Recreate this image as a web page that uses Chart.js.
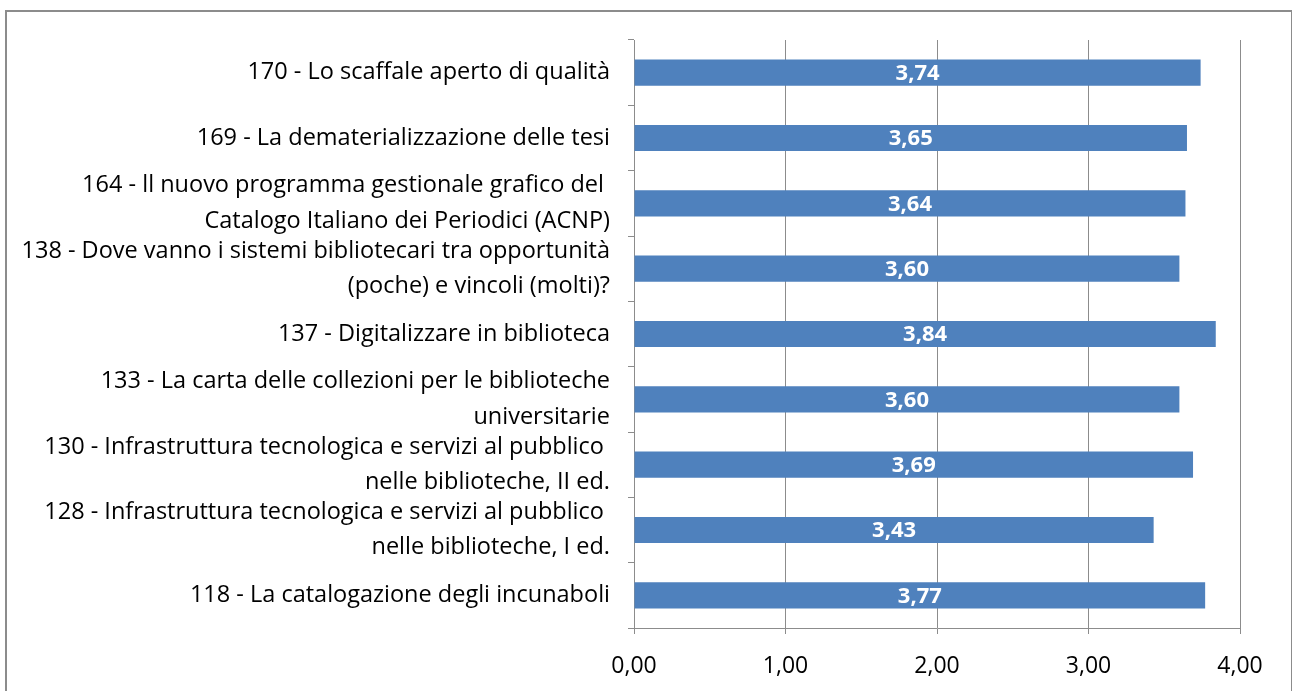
<!DOCTYPE html>
<html>
<head>
<meta charset="utf-8">
<script src="https://cdn.jsdelivr.net/npm/chart.js@4"></script>
<style>
  html, body { margin: 0; padding: 0; background: #fff; overflow: hidden; }
  #box { position: absolute; left: 5px; top: 10px; width: 1284px; height: 690px; border: 2px solid #8c8c8c; }
  #wrap { position: absolute; left: 0; top: 0; width: 1284px; height: 680px; }
</style>
</head>
<body>
<div id="box"><div id="wrap"><canvas id="c"></canvas></div></div>
<script>
// categories, top to bottom
var categories = [
    "170 - Lo scaffale aperto di qualità",
    "169 - La dematerializzazione delle tesi",
    ["164 - ll nuovo programma gestionale grafico del ", "Catalogo Italiano dei Periodici (ACNP)"],
    ["138 - Dove vanno i sistemi bibliotecari tra opportunità", "(poche) e vincoli (molti)?"],
    "137 - Digitalizzare in biblioteca",
    ["133 - La carta delle collezioni per le biblioteche", "universitarie"],
    ["130 - Infrastruttura tecnologica e servizi al pubblico ", "nelle biblioteche, II ed."],
    ["128 - Infrastruttura tecnologica e servizi al pubblico ", "nelle biblioteche, I ed."],
    "118 - La catalogazione degli incunaboli"
];
var values = [3.74, 3.65, 3.64, 3.60, 3.84, 3.60, 3.69, 3.43, 3.77];
var xTicks = [0, 1, 2, 3, 4];

var FONT = "'Open Sans', sans-serif";
function fmt(v){ return v.toFixed(2).replace('.', ','); }

// white values in the middle of each bar
var barLabels = {
    id: 'barLabels',
    afterDatasetsDraw: function(chart){
        var ctx = chart.ctx;
        var meta = chart.getDatasetMeta(0);
        ctx.save();
        ctx.fillStyle = '#ffffff';
        ctx.font = 'bold 22px ' + FONT;
        ctx.textAlign = 'center';
        ctx.textBaseline = 'middle';
        meta.data.forEach(function(bar, i){
            var cx = (bar.x + bar.base) / 2;
            ctx.fillText(fmt(values[i]), cx, bar.y + 1);
        });
        ctx.restore();
    }
};

var myChart = new Chart(document.getElementById('c'), {
    type: 'bar',
    data: {
        labels: categories,
        datasets: [{
            data: values,
            backgroundColor: '#4F81BD',
            borderWidth: 0,
            barPercentage: 0.8,
            categoryPercentage: 0.5
        }]
    },
    options: {
        indexAxis: 'y',
        responsive: true,
        maintainAspectRatio: false,
        animation: false,
        layout: { padding: { left: 0, right: 51, top: 28, bottom: 0 } },
        plugins: { legend: { display: false }, tooltip: { enabled: false } },
        scales: {
            x: {
                min: 0, max: 4,
                afterBuildTicks: function(scale){ scale.ticks = xTicks.map(function(v){ return { value: v }; }); },
                ticks: { color: '#000', font: { family: FONT, size: 23 }, padding: 19,
                         callback: function(v){ return fmt(v); } },
                grid: { color: '#8c8c8c', lineWidth: 1, tickLength: 6 },
                border: { color: '#8c8c8c', width: 1 },
                afterFit: function(scale){ scale.height = 680 - 616; }
            },
            y: {
                ticks: { color: '#000', font: { family: FONT, size: 23.5, lineHeight: 1.5 }, padding: 18, autoSkip: false },
                grid: { drawOnChartArea: false, color: '#8c8c8c', tickLength: 6, offset: true },
                border: { color: '#8c8c8c', width: 1 },
                afterFit: function(scale){
                    scale.width = 627;
                    scale.paddingTop = 0;
                    scale.paddingBottom = 0;
                }
            }
        }
    },
    plugins: [barLabels]
});
</script>
</body>
</html>
